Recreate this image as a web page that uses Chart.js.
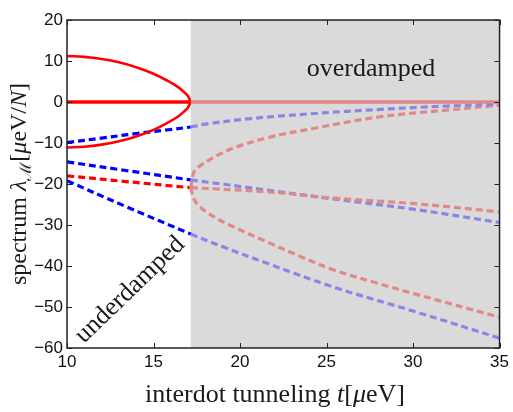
<!DOCTYPE html>
<html>
<head>
<meta charset="utf-8">
<script src="https://cdn.jsdelivr.net/npm/chart.js@4.4.1/dist/chart.umd.min.js"></script>
<style>
  html, body { margin: 0; padding: 0; background: #fff; }
  #wrap { width: 513px; height: 412px; }
</style>
</head>
<body>
<div id="wrap"><canvas id="spectrumChart"></canvas></div>
<script>
// tunneling where the modes turn overdamped (start of grey area)
const tCrit = 17.15;

// underdamped side
const ellipseT = [10, 11, 12, 13, 14, 15, 15.8, 16.4, 16.8, 17.0, 17.15];
const ellipseUp = [11.2, 11.0, 10.5, 9.7, 8.5, 6.9, 5.2, 3.7, 2.3, 1.4, 0];
const ellipseLow = [-11.1, -10.9, -10.4, -9.6, -8.4, -6.8, -5.1, -3.6, -2.2, -1.3, 0];
const zeroT = [10, 17.15];
const zeroVal = [0, 0];
const blueAT = [10, 12, 14, 16, 17.15];
const blueA = [-9.9, -8.8, -7.7, -6.7, -6.1];
const blueBT = [10, 13.4, 17.15];
const blueB = [-14.6, -16.7, -19.0];
const blueCT = [10, 13.4, 17.15];
const blueC = [-19.2, -25.5, -32.2];
const redDT = [10, 13.4, 17.15];
const redD = [-18.0, -19.4, -20.9];

// overdamped side (faded curves)
const zeroOverT = [17.15, 35];
const zeroOver = [0, 0];
const blueA2T = [17.15, 18, 20.5, 24.3, 28.1, 31.9, 35];
const blueA2 = [-6.1, -5.4, -4.1, -2.8, -1.8, -1.0, -0.5];
const blueB2T = [17.15, 21.6, 25.3, 30.1, 35];
const blueB2 = [-19.0, -21.5, -23.6, -26.2, -29.4];
const blueC2T = [17.15, 19, 21.6, 25.3, 30.1, 35];
const blueC2 = [-32.2, -35.3, -39.4, -45.0, -51.1, -57.6];
const redUpT = [17.15, 17.35, 17.75, 18.75, 19.7, 21.6, 24.3, 28.1, 31.9, 35];
const redUp = [-20.9, -17.0, -15.4, -12.9, -11.1, -8.7, -6.4, -3.6, -2.0, -0.8];
const redMidT = [17.15, 21.6, 25.3, 30.1, 35];
const redMid = [-20.9, -21.9, -23.4, -24.8, -26.8];
const redLowT = [17.15, 17.35, 17.8, 18.7, 19.7, 21.6, 23.5, 25.3, 28.1, 30.1, 35];
const redLow = [-20.9, -23.8, -26.0, -28.5, -30.6, -34.2, -37.7, -40.8, -44.4, -46.8, -52.5];

const xTicks = [10, 15, 20, 25, 30, 35];
const yTicks = [-60, -50, -40, -30, -20, -10, 0, 10, 20];

const RED = '#ff0000';
const BLUE = '#0000ff';
const RED_FADE = 'rgb(226,136,136)';
const BLUE_FADE = 'rgb(136,136,228)';
const SERIF = '"Liberation Serif", "DejaVu Serif", serif';

function pts(xs, ys) {
    return xs.map((x, i) => ({ x: x, y: ys[i] }));
}

function dashed(xs, ys, color) {
    return {
        data: pts(xs, ys),
        borderColor: color,
        borderWidth: 3.2,
        borderDash: [7, 4],
        tension: 0.35
    };
}

const ellipseData = pts(ellipseT, ellipseUp).concat(pts(ellipseT.slice().reverse(), ellipseLow.slice().reverse()));

const datasets = [
    { data: pts(zeroOverT, zeroOver), borderColor: RED_FADE, borderWidth: 3.5 },
    dashed(blueA2T, blueA2, BLUE_FADE),
    dashed(redUpT, redUp, RED_FADE),
    dashed(redMidT, redMid, RED_FADE),
    dashed(blueB2T, blueB2, BLUE_FADE),
    dashed(redLowT, redLow, RED_FADE),
    dashed(blueC2T, blueC2, BLUE_FADE),
    { data: ellipseData, borderColor: RED, borderWidth: 2.6, tension: 0.4 },
    { data: pts(zeroT, zeroVal), borderColor: RED, borderWidth: 3.5 },
    dashed(blueAT, blueA, BLUE),
    dashed(blueBT, blueB, BLUE),
    dashed(redDT, redD, RED),
    dashed(blueCT, blueC, BLUE)
];

// text with italic / subscript pieces, centred on (0,0) of current transform
function drawRich(ctx, parts, size) {
    const fonts = parts.map(p => {
        const s = p[1] === 'sub' ? size * 0.68 : size;
        return (p[1] === 'i' ? 'italic ' : '') + s + 'px ' + SERIF;
    });
    let total = 0;
    const widths = parts.map((p, i) => {
        ctx.font = fonts[i];
        const w = ctx.measureText(p[0]).width;
        total += w;
        return w;
    });
    let cx = -total / 2;
    parts.forEach((p, i) => {
        ctx.font = fonts[i];
        ctx.fillText(p[0], cx, p[1] === 'sub' ? size * 0.22 : 0);
        cx += widths[i];
    });
}

const shadePlugin = {
    id: 'shade',
    beforeDatasetsDraw(chart) {
        const { ctx, chartArea, scales } = chart;
        const x0 = scales.x.getPixelForValue(tCrit);
        ctx.save();
        ctx.fillStyle = '#dadada';
        ctx.fillRect(x0, chartArea.top, chartArea.right - x0, chartArea.bottom - chartArea.top);
        ctx.restore();
    }
};

const framePlugin = {
    id: 'frame',
    afterDraw(chart) {
        const { ctx, chartArea: a, scales } = chart;
        ctx.save();
        ctx.strokeStyle = '#222';
        ctx.lineWidth = 1;
        ctx.beginPath();
        xTicks.forEach(v => {
            const px = Math.round(scales.x.getPixelForValue(v)) + 0.5;
            ctx.moveTo(px, a.bottom); ctx.lineTo(px, a.bottom - 5);
            ctx.moveTo(px, a.top); ctx.lineTo(px, a.top + 5);
        });
        yTicks.forEach(v => {
            const py = Math.round(scales.y.getPixelForValue(v)) + 0.5;
            ctx.moveTo(a.left, py); ctx.lineTo(a.left + 5, py);
            ctx.moveTo(a.right, py); ctx.lineTo(a.right - 5, py);
        });
        ctx.stroke();
        ctx.lineWidth = 1.5;
        ctx.strokeRect(a.left, a.top, a.right - a.left, a.bottom - a.top);

        ctx.fillStyle = '#1a1a1a';
        ctx.textBaseline = 'alphabetic';
        ctx.textAlign = 'left';

        // x axis title
        ctx.save();
        ctx.translate(275, 402);
        drawRich(ctx, [['interdot tunneling ', ''], ['t', 'i'], ['[', ''], ['\u03bc', 'i'], ['eV]', '']], 26);
        ctx.restore();

        // y axis title
        ctx.save();
        ctx.translate(26, 184);
        ctx.rotate(-Math.PI / 2);
        drawRich(ctx, [['spectrum ', ''], ['\u03bb', 'i'], ['\u2133', 'sub'], ['[', ''], ['\u03bc', 'i'], ['eV/', ''], ['N', 'i'], [']', '']], 24);
        ctx.restore();

        // region labels
        ctx.font = '26px ' + SERIF;
        ctx.textAlign = 'center';
        ctx.fillText('overdamped', 371, 76);

        ctx.save();
        ctx.translate(130, 290);
        ctx.rotate(-44 * Math.PI / 180);
        ctx.textBaseline = 'middle';
        ctx.fillText('underdamped', 0, 0);
        ctx.restore();

        ctx.restore();
    }
};

const minusLabel = v => String(v).replace('-', '\u2212');

new Chart(document.getElementById('spectrumChart'), {
    type: 'line',
    data: { datasets: datasets },
    options: {
        responsive: true,
        maintainAspectRatio: false,
        animation: false,
        layout: { padding: { top: 20, right: 9, left: 0, bottom: 0 } },
        elements: { point: { radius: 0 } },
        plugins: {
            legend: { display: false },
            tooltip: { enabled: false }
        },
        scales: {
            x: {
                type: 'linear',
                min: 10,
                max: 35,
                afterFit: s => { s.height = 64; },
                grid: { display: false, drawTicks: false },
                border: { display: false },
                ticks: {
                    stepSize: 5,
                    padding: 4,
                    color: '#111',
                    font: { family: '"Liberation Sans", Arial, sans-serif', size: 17 },
                    callback: minusLabel
                }
            },
            y: {
                type: 'linear',
                min: -60,
                max: 20,
                afterFit: s => { s.width = 67; },
                grid: { display: false, drawTicks: false },
                border: { display: false },
                ticks: {
                    stepSize: 10,
                    padding: 4,
                    color: '#111',
                    font: { family: '"Liberation Sans", Arial, sans-serif', size: 17 },
                    callback: minusLabel
                }
            }
        }
    },
    plugins: [shadePlugin, framePlugin]
});
</script>
</body>
</html>
